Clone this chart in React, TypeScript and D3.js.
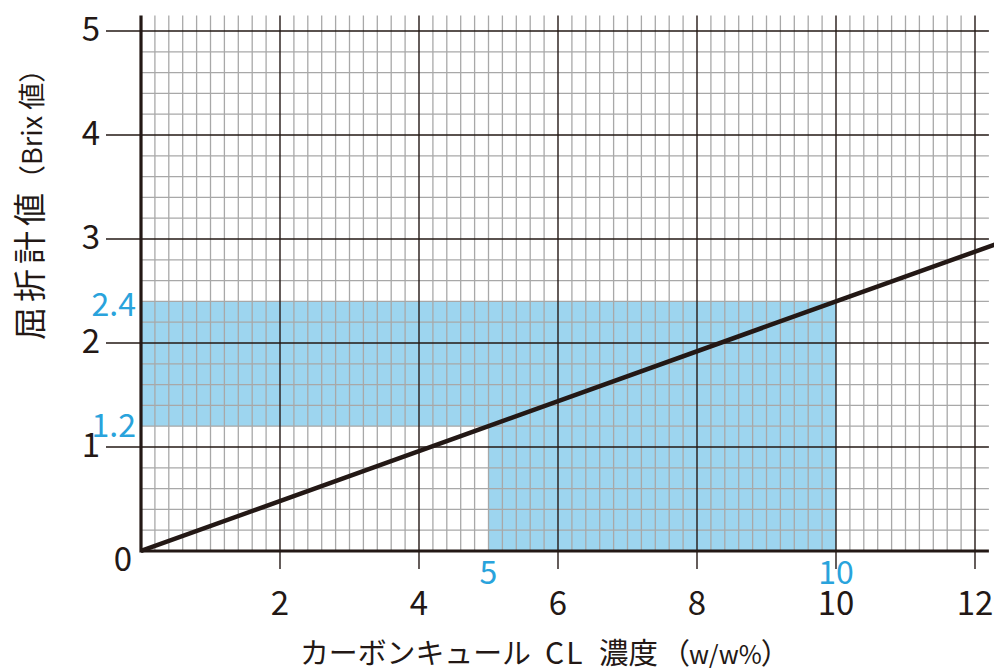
import React, { useEffect, useRef } from "react";
import * as d3 from "d3";

// x: CL concentration (w/w%), y: refractometer reading (Brix)
const concentration = [0, 5, 10, 12.3];
const brix = [0, 1.2, 2.4, 2.95];

const xTicks = [2, 4, 6, 8, 10, 12];
const yTicks = [1, 2, 3, 4, 5];

// highlighted band: 5–10 % gives 1.2–2.4 Brix
const rangeX = [5, 10];
const rangeY = [1.2, 2.4];

const INK = "#231815";
const BLUE = "#29a3dc";
const FILL = "#9dd5ef";
const FONT = "'Noto Sans CJK JP', 'Noto Sans', sans-serif";

const App = () => {
  const svgRef = useRef<SVGSVGElement>(null);

  useEffect(() => {
    const width = 994,
      height = 668;

    const svg = d3.select(svgRef.current).attr("width", width).attr("height", height);
    svg.selectAll("*").remove();

    const x = d3.scaleLinear().domain([0, 12]).range([141, 975]);
    const y = d3.scaleLinear().domain([0, 5]).range([551, 31]);

    const xMax = 12.2;
    const yTop = 5.15;

    // shaded region
    const shade = svg.append("g").attr("fill", FILL);
    shade
      .append("rect")
      .attr("x", x(0))
      .attr("y", y(rangeY[1]))
      .attr("width", x(rangeX[1]) - x(0))
      .attr("height", y(rangeY[0]) - y(rangeY[1]));
    shade
      .append("rect")
      .attr("x", x(rangeX[0]))
      .attr("y", y(rangeY[0]))
      .attr("width", x(rangeX[1]) - x(rangeX[0]))
      .attr("height", y(0) - y(rangeY[0]));

    // minor grid
    const minorX = d3.range(0, 60.5).map((i) => i * 0.2).filter((v) => v > 0 && Math.round(v * 10) % 20 !== 0);
    const minorY = d3.range(1, 26).map((i) => i * 0.2).filter((v) => Math.round(v * 10) % 10 !== 0);

    const minor = svg.append("g").attr("stroke", "#a8a8a8").attr("stroke-width", 1.3);
    minor
      .selectAll("line.v")
      .data(minorX)
      .enter()
      .append("line")
      .attr("x1", (d) => x(d))
      .attr("x2", (d) => x(d))
      .attr("y1", y(0))
      .attr("y2", y(yTop));
    minor
      .selectAll("line.h")
      .data(minorY)
      .enter()
      .append("line")
      .attr("x1", x(0))
      .attr("x2", x(xMax))
      .attr("y1", (d) => y(d))
      .attr("y2", (d) => y(d));

    // major grid with tick extensions
    const major = svg.append("g").attr("stroke", INK).attr("stroke-width", 1.4);
    major
      .selectAll("line.v")
      .data(xTicks)
      .enter()
      .append("line")
      .attr("x1", (d) => x(d))
      .attr("x2", (d) => x(d))
      .attr("y1", y(0) + 18)
      .attr("y2", y(yTop));
    major
      .selectAll("line.h")
      .data(yTicks)
      .enter()
      .append("line")
      .attr("x1", x(0) - 35)
      .attr("x2", x(xMax))
      .attr("y1", (d) => y(d))
      .attr("y2", (d) => y(d));

    // axes
    svg
      .append("line")
      .attr("x1", x(0))
      .attr("x2", x(0))
      .attr("y1", y(0) + 1.5)
      .attr("y2", y(yTop))
      .attr("stroke", INK)
      .attr("stroke-width", 3.2);
    svg
      .append("line")
      .attr("x1", x(0))
      .attr("x2", x(xMax))
      .attr("y1", y(0))
      .attr("y2", y(0))
      .attr("stroke", INK)
      .attr("stroke-width", 3.2);

    // data line
    svg
      .append("clipPath")
      .attr("id", "plot-clip")
      .append("rect")
      .attr("x", x(0))
      .attr("y", 0)
      .attr("width", width - x(0))
      .attr("height", height);

    const pts = concentration.map((c, i) => [c, brix[i]] as [number, number]);
    const line = d3
      .line<[number, number]>()
      .x((d) => x(d[0]))
      .y((d) => y(d[1]));
    svg
      .append("path")
      .attr("d", line(pts))
      .attr("clip-path", "url(#plot-clip)")
      .attr("fill", "none")
      .attr("stroke", INK)
      .attr("stroke-width", 4.5)
      .attr("stroke-linecap", "butt");

    // tick labels
    const labels = svg.append("g").attr("font-family", FONT).attr("font-size", 33).attr("fill", INK);
    labels
      .selectAll("text.x")
      .data(xTicks)
      .enter()
      .append("text")
      .attr("x", (d) => x(d))
      .attr("y", 615)
      .attr("text-anchor", "middle")
      .text((d) => d);
    labels
      .selectAll("text.y")
      .data(yTicks)
      .enter()
      .append("text")
      .attr("x", 100)
      .attr("y", (d) => y(d) + 10)
      .attr("text-anchor", "end")
      .text((d) => d);
    labels
      .append("text")
      .attr("x", 132)
      .attr("y", y(0) + 20)
      .attr("text-anchor", "end")
      .text(0);

    // highlight labels
    const hl = svg.append("g").attr("font-family", FONT).attr("font-size", 32).attr("fill", BLUE);
    hl.selectAll("text.x")
      .data(rangeX)
      .enter()
      .append("text")
      .attr("x", (d) => x(d))
      .attr("y", 584)
      .attr("text-anchor", "middle")
      .text((d) => d);
    hl.selectAll("text.y")
      .data(rangeY)
      .enter()
      .append("text")
      .attr("x", 136)
      .attr("y", (d) => y(d) + (d > 2 ? 15 : 11))
      .attr("text-anchor", "end")
      .text((d) => d.toFixed(1));

    // axis titles
    const xt = svg.append("g").attr("font-family", FONT).attr("fill", INK).attr("font-size", 29);
    xt.append("text")
      .attr("x", 300)
      .attr("y", 664)
      .attr("textLength", 231)
      .attr("lengthAdjust", "spacingAndGlyphs")
      .text("カーボンキュール");
    xt.append("text")
      .attr("x", 545)
      .attr("y", 664)
      .attr("font-size", 30)
      .attr("letter-spacing", 2)
      .text("CL");
    xt.append("text")
      .attr("x", 599)
      .attr("y", 664)
      .attr("textLength", 59)
      .attr("lengthAdjust", "spacingAndGlyphs")
      .text("濃度");
    const unit = xt.append("text").attr("x", 661).attr("y", 664);
    unit.append("tspan").text("（");
    unit.append("tspan").attr("font-size", 25).attr("dx", -1).text("w/w%");
    unit.append("tspan").attr("dx", -1).text("）");

    const yt = svg
      .append("text")
      .attr("transform", "translate(42,340) rotate(-90)")
      .attr("font-family", FONT)
      .attr("fill", INK);
    yt.append("tspan").attr("font-size", 33).attr("letter-spacing", 5).text("屈折計値");
    yt.append("tspan").attr("font-size", 27).attr("dx", -4).text("（Brix 値）");
  }, []);

  return (
    <svg
      ref={svgRef}
      style={{ position: "absolute", left: 0, top: 0, display: "block", background: "#fff" }}
    ></svg>
  );
};

export default App;
